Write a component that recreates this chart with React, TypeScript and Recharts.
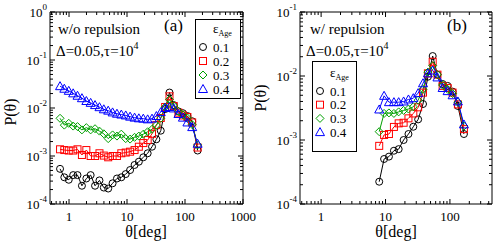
import { LineChart, Line, XAxis, YAxis, Legend } from 'recharts'

// angle bins [deg]
const X_A = [0.7, 0.83, 0.99, 1.18, 1.4, 1.67, 1.99, 2.36, 2.81, 3.35, 3.98, 4.74, 5.64, 6.71, 7.98, 9.5, 11.3, 13.5, 16.0, 19.1, 22.7, 27.0, 32.1, 38.2, 45.5, 54, 64, 77, 92, 110, 133, 165]
const X_B = [7.98, 9.5, 11.3, 13.5, 16.0, 19.1, 22.7, 27.0, 32.1, 38.2, 45.5, 54, 64, 77, 92, 110, 133, 165]

// (a) w/o repulsion
const A_01 = [5.4e-4, 3.6e-4, 3.2e-4, 4.0e-4, 4.0e-4, 2.4e-4, 3.4e-4, 4.0e-4, 2.4e-4, 3.1e-4, 2.2e-4, 2.1e-4, 2.7e-4, 3.4e-4, 3.6e-4, 4.2e-4, 5.1e-4, 6.5e-4, 7.6e-4, 9.4e-4, 1.14e-3, 1.56e-3, 2.23e-3, 3.37e-3, 9.5e-3, 0.021, 0.0115, 8.5e-3, 7.8e-3, 6.8e-3, 5.3e-3, 1.3e-3]
const A_02 = [1.38e-3, 1.33e-3, 1.3e-3, 1.3e-3, 1.38e-3, 1.05e-3, 1.33e-3, 1.0e-3, 1.0e-3, 1.14e-3, 1.02e-3, 0.94e-3, 1.0e-3, 1.0e-3, 1.14e-3, 1.18e-3, 1.23e-3, 1.33e-3, 1.56e-3, 1.86e-3, 2.15e-3, 2.9e-3, 4.4e-3, 6.2e-3, 0.0105, 0.0175, 0.011, 8.0e-3, 7.0e-3, 6.5e-3, 5.0e-3, 1.5e-3]
const A_03 = [6.1e-3, 4.4e-3, 4.8e-3, 4.2e-3, 4.1e-3, 3.5e-3, 3.9e-3, 3.5e-3, 3.7e-3, 3.3e-3, 2.9e-3, 2.3e-3, 2.75e-3, 2.6e-3, 2.85e-3, 2.3e-3, 2.25e-3, 2.45e-3, 2.6e-3, 2.85e-3, 3.2e-3, 3.6e-3, 4.4e-3, 6.1e-3, 0.0105, 0.015, 0.011, 8.5e-3, 7.2e-3, 6.2e-3, 4.5e-3, 1.7e-3]
const A_04 = [0.0285, 0.0252, 0.0228, 0.0202, 0.018, 0.016, 0.014, 0.0128, 0.0115, 0.0104, 0.0094, 0.0088, 0.0081, 0.0076, 0.0073, 0.007, 0.0066, 0.0063, 0.0061, 0.006, 0.0058, 0.006, 0.0068, 0.0082, 0.01, 0.0105, 0.0098, 0.0075, 0.0063, 0.005, 0.004, 0.0018]

// (b) w/ repulsion
const B_01 = [2.23e-4, 5.05e-4, 5.5e-4, 6.8e-4, 7.2e-4, 1.0e-3, 1.24e-3, 1.61e-3, 2.1e-3, 3.65e-3, 9.75e-3, 0.0205, 0.0105, 7.5e-3, 7.0e-3, 5.7e-3, 3.4e-3, 1.24e-3]
const B_02 = [8.1e-4, 1.2e-3, 1.24e-3, 1.6e-3, 1.82e-3, 1.86e-3, 2.18e-3, 2.6e-3, 3.24e-3, 5.5e-3, 0.011, 0.0167, 0.0105, 7.0e-3, 6.5e-3, 5.5e-3, 3.6e-3, 1.48e-3]
const B_03 = [1.35e-3, 2.6e-3, 2.65e-3, 2.6e-3, 2.75e-3, 2.9e-3, 3.05e-3, 3.3e-3, 4.2e-3, 6.2e-3, 0.0115, 0.0145, 0.0105, 7.2e-3, 6.2e-3, 5.3e-3, 3.9e-3, 1.65e-3]
const B_04 = [3.0e-3, 4.9e-3, 3.9e-3, 3.9e-3, 3.9e-3, 4.0e-3, 4.3e-3, 4.5e-3, 5.4e-3, 7.7e-3, 0.011, 0.0122, 0.0095, 6.5e-3, 5.8e-3, 5.0e-3, 4.0e-3, 1.75e-3]

const SERIES = [
  { key: 's1', name: '0.1', color: '#000000', shape: 'circle' },
  { key: 's2', name: '0.2', color: '#ff0000', shape: 'square' },
  { key: 's3', name: '0.3', color: '#00a000', shape: 'diamond' },
  { key: 's4', name: '0.4', color: '#0000ff', shape: 'triangle' },
]

const X_DECADES_A = [0.1, 1, 10, 100]
const X_DECADES_B = [0.1, 1, 10, 100]
const Y_DECADES_A = [1e-4, 1e-3, 1e-2, 1e-1]
const Y_DECADES_B = [1e-4, 1e-3, 1e-2]

const FONT = '"Liberation Serif", "Times New Roman", serif'

function logTicks(decades: number[], lo: number, hi: number) {
  const out: number[] = []
  decades.forEach((d) => {
    for (let m = 1; m <= 10; m++) {
      const v = +(m * d).toPrecision(6)
      if (v >= lo && v <= hi && !out.includes(v)) out.push(v)
    }
  })
  return out
}

const isMajor = (v: number) => Math.abs(Math.log10(v) - Math.round(Math.log10(v))) < 1e-6

function Marker({ cx, cy, shape, color }: { cx: number; cy: number; shape: string; color: string }) {
  if (cx == null || cy == null) return null
  const p = { fill: 'none', stroke: color, strokeWidth: 1 }
  if (shape === 'circle') return <circle cx={cx} cy={cy} r={3.5} {...p} />
  if (shape === 'square') return <rect x={cx - 3.5} y={cy - 3.5} width={7} height={7} {...p} />
  if (shape === 'diamond')
    return <polygon points={`${cx},${cy - 4} ${cx + 4},${cy} ${cx},${cy + 4} ${cx - 4},${cy}`} {...p} />
  return <polygon points={`${cx},${cy - 4.5} ${cx + 4.5},${cy + 3.5} ${cx - 4.5},${cy + 3.5}`} {...p} />
}

function AxisTick(props: any) {
  const { x, y, payload, side } = props
  const v = payload.value
  const len = isMajor(v) ? 5 : 3
  const style = { fontFamily: FONT, fill: '#000' }
  if (side === 'bottom') {
    return (
      <g>
        <line x1={x} x2={x} y1={y} y2={y - len} stroke="#000" />
        {isMajor(v) && (
          <text x={x} y={y + 17} textAnchor="middle" fontSize={13} style={style}>
            {String(Math.round(v))}
          </text>
        )}
      </g>
    )
  }
  if (side === 'top') return <line x1={x} x2={x} y1={y} y2={y + len} stroke="#000" />
  if (side === 'left') {
    const e = Math.round(Math.log10(v))
    return (
      <g>
        <line x1={x} x2={x + len} y1={y} y2={y} stroke="#000" />
        {isMajor(v) && (
          <text x={x - 3} y={y + 5} textAnchor="end" fontSize={13} style={style}>
            10
            <tspan dy={-7} fontSize={9}>
              {String(e)}
            </tspan>
          </text>
        )}
      </g>
    )
  }
  return <line x1={x} x2={x - len} y1={y} y2={y} stroke="#000" />
}

function LegendBox({ w, h, top0, step }: { w: number; h: number; top0: number; step: number }) {
  return (
    <svg width={w} height={h} style={{ display: 'block', fontFamily: FONT }}>
      <rect x={0.5} y={0.5} width={w - 1} height={h - 1} fill="#fff" stroke="#000" />
      <text x={18} y={top0 - 14} fontSize={13}>
        ε<tspan dy={3} fontSize={8}>Age</tspan>
      </text>
      {SERIES.map((s, i) => (
        <g key={s.key}>
          <Marker cx={8} cy={top0 + i * step} shape={s.shape} color={s.color} />
          <text x={18} y={top0 + i * step + 4.5} fontSize={13}>
            {s.name}
          </text>
        </g>
      ))}
    </svg>
  )
}

function Panel({
  xs,
  cols,
  xDomain,
  xDecades,
  yDomain,
  yDecades,
  margin,
  legend,
  children,
}: any) {
  const rows = xs.map((x: number, i: number) => ({ x, s1: cols[0][i], s2: cols[1][i], s3: cols[2][i], s4: cols[3][i] }))
  const xt = logTicks(xDecades, xDomain[0], xDomain[1])
  const yt = logTicks(yDecades, yDomain[0], yDomain[1])
  const common = { type: 'number' as const, scale: 'log' as const, allowDataOverflow: true, interval: 0, tickSize: 0, tickMargin: 0, tickLine: false, axisLine: { stroke: '#000' } }
  return (
    <LineChart width={249} height={244} data={rows} margin={margin} style={{ fontFamily: FONT }}>
      <XAxis xAxisId="b" dataKey="x" domain={xDomain} ticks={xt} height={1} {...common} tick={(p: any) => <AxisTick {...p} side="bottom" />} />
      <XAxis xAxisId="t" orientation="top" dataKey="x" domain={xDomain} ticks={xt} height={1} {...common} tick={(p: any) => <AxisTick {...p} side="top" />} />
      <YAxis yAxisId="l" domain={yDomain} ticks={yt} width={1} {...common} tick={(p: any) => <AxisTick {...p} side="left" />} />
      <YAxis yAxisId="r" orientation="right" domain={yDomain} ticks={yt} width={1} {...common} tick={(p: any) => <AxisTick {...p} side="right" />} />
      {SERIES.map((s) => (
        <Line
          key={s.key}
          xAxisId="b"
          yAxisId="l"
          dataKey={s.key}
          name={s.name}
          stroke={s.color}
          strokeWidth={1}
          activeDot={false}
          dot={(p: any) => <Marker key={`${s.key}-${p.index}`} cx={p.cx} cy={p.cy} shape={s.shape} color={s.color} />}
          isAnimationActive={false}
        />
      ))}
      <Legend
        layout="vertical"
        align="center"
        verticalAlign="middle"
        wrapperStyle={{ left: legend.left, top: legend.top, width: legend.w, height: legend.h }}
        content={() => <LegendBox w={legend.w} h={legend.h} top0={legend.top0} step={legend.step} />}
      />
      {children}
    </LineChart>
  )
}

export default function App() {
  const txt = { fontFamily: FONT, fill: '#000' }
  return (
    <div style={{ position: 'absolute', left: 0, top: 0, width: 498, height: 244, display: 'flex', background: '#fff' }}>
      <style>{'.recharts-surface { overflow: visible; }'}</style>
      <Panel
        xs={X_A}
        cols={[A_01, A_02, A_03, A_04]}
        xDomain={[0.47, 1000]}
        xDecades={X_DECADES_A}
        yDomain={[1e-4, 1]}
        yDecades={Y_DECADES_A}
        margin={{ top: 11, right: 5, bottom: 39, left: 49 }}
        legend={{ left: 195, top: 19, w: 46, h: 80, top0: 28, step: 14 }}
      >
        <text x={58} y={34} fontSize={15} style={txt}>w/o repulsion</text>
        <text x={56} y={56} fontSize={15} style={txt}>
          Δ=0.05,τ=10<tspan dy={-7} fontSize={10}>4</tspan>
        </text>
        <text x={164} y={31} fontSize={17} style={txt}>(a)</text>
        <text x={146} y={237} fontSize={16} textAnchor="middle" style={txt}>θ[deg]</text>
        <text transform="translate(16,112) rotate(-90)" fontSize={16} textAnchor="middle" style={txt}>P(θ)</text>
      </Panel>
      <Panel
        xs={X_B}
        cols={[B_01, B_02, B_03, B_04]}
        xDomain={[0.47, 450]}
        xDecades={X_DECADES_B}
        yDomain={[1e-4, 0.1]}
        yDecades={Y_DECADES_B}
        margin={{ top: 11, right: 5, bottom: 39, left: 50 }}
        legend={{ left: 63, top: 61, w: 45, h: 91, top0: 30, step: 13.7 }}
      >
        <text x={61} y={34} fontSize={15} style={txt}>w/ repulsion</text>
        <text x={57} y={56} fontSize={15} style={txt}>
          Δ=0.05,τ=10<tspan dy={-7} fontSize={10}>4</tspan>
        </text>
        <text x={198} y={31} fontSize={17} style={txt}>(b)</text>
        <text x={147} y={237} fontSize={16} textAnchor="middle" style={txt}>θ[deg]</text>
        <text transform="translate(17,98) rotate(-90)" fontSize={16} textAnchor="middle" style={txt}>P(θ)</text>
      </Panel>
    </div>
  )
}
